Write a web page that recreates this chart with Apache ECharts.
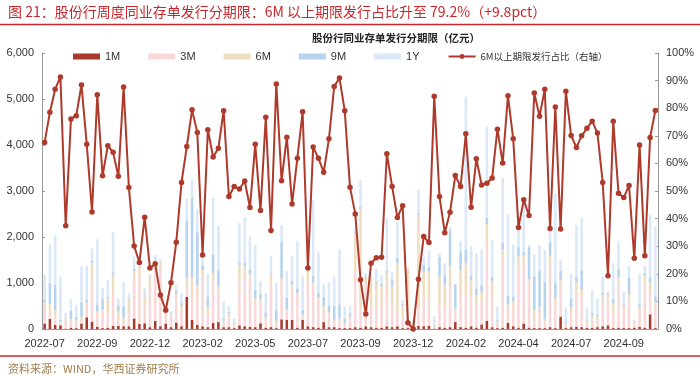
<!DOCTYPE html>
<html>
	<head>
		<meta charset="UTF-8">
		<title>股份行周度同业存单发行分期限</title>
		<style type="text/css">
			html, body { margin: 0; padding: 0; background: #fff; }
			#chartbox { width: 700px; height: 377px; }
		</style>
		<script src="https://cdn.jsdelivr.net/npm/echarts@6/dist/echarts.min.js"></script>
	</head>
	<body>
		<div id="chartbox"></div>
		<script>
			// 横轴每10周一个标签
			var tickLabels = ['2022-07', '2022-09', '2022-12', '2023-02', '2023-05', '2023-07',
				'2023-09', '2023-12', '2024-02', '2024-04', '2024-07', '2024-09'];

			// 各期限发行量（亿元），每周一个值，共117周
			var m1 = [120, 220, 90, 80, 10, 30, 20, 120, 255, 160,
				50, 20, 30, 65, 70, 60, 60, 230, 110, 125,
				40, 175, 60, 120, 40, 140, 60, 700, 200, 90,
				60, 40, 130, 150, 40, 40, 20, 80, 60, 50,
				40, 125, 30, 40, 20, 210, 200, 200, 30, 200,
				60, 40, 30, 150, 40, 40, 20, 20, 20, 40,
				30, 60, 40, 30, 30, 60, 40, 60, 20, 20,
				10, 70, 60, 70, 10, 40, 30, 40, 150, 40,
				30, 60, 30, 100, 180, 40, 20, 30, 130, 60,
				30, 120, 30, 20, 20, 20, 40, 20, 270, 20,
				40, 50, 40, 30, 30, 40, 60, 80, 20, 30,
				20, 20, 30, 50, 30, 320, 20];
			var m3 = [260, 175, 175, 20, 210, 125, 100, 35, 200, 850,
				245, 375, 330, 690, 230, 65, 315, 870, 1015, 400,
				885, 1055, 1270, 345, 275, 520, 305, 260, 470, 660,
				1075, 295, 940, 625, 85, 220, 90, 1055, 1065, 1075,
				565, 470, 150, 985, 90, 835, 185, 670, 695, 45,
				980, 915, 605, 270, 275, 100, 140, 80, 225, 1240,
				400, 900, 430, 450, 500, 700, 500, 315, 250, 500,
				150, 380, 580, 450, 30, 500, 420, 900, 250, 750,
				700, 600, 500, 500, 1650, 700, 100, 1500, 300, 450,
				1400, 1300, 1000, 150, 350, 150, 1350, 560, 700, 40,
				320, 720, 690, 90, 180, 150, 475, 585, 330, 940,
				400, 640, 115, 350, 980, 440, 440];
			var m6 = [200, 150, 140, 60, 30, 60, 80, 100, 120, 420,
				80, 40, 300, 420, 90, 120, 250, 150, 200, 210,
				200, 280, 150, 20, 20, 100, 140, 170, 440, 200,
				150, 150, 150, 150, 60, 80, 30, 250, 250, 60,
				60, 60, 80, 160, 50, 60, 50, 100, 60, 60,
				200, 60, 60, 80, 50, 60, 60, 30, 30, 780,
				2175, 150, 650, 500, 400, 450, 380, 1060, 250, 800,
				15, 2030, 600, 725, 30, 600, 500, 450, 50, 500,
				700, 400, 200, 200, 450, 300, 60, 200, 100, 100,
				150, 180, 50, 250, 100, 50, 200, 100, 100, 60,
				120, 250, 120, 40, 80, 80, 200, 100, 200, 150,
				100, 100, 20, 80, 150, 250, 150];
			var m9 = [60, 450, 560, 40, 20, 190, 60, 330, 60, 60,
				160, 220, 40, 60, 120, 250, 30, 60, 30, 20,
				20, 40, 10, 5, 30, 80, 60, 1230, 1740, 1150,
				100, 210, 400, 350, 40, 40, 20, 60, 60, 100,
				180, 100, 100, 40, 250, 790, 250, 80, 100, 110,
				30, 150, 100, 200, 150, 300, 300, 100, 60, 40,
				50, 20, 20, 40, 50, 60, 160, 110, 30, 0,
				0, 40, 150, 100, 20, 435, 220, 760, 520, 400,
				300, 100, 150, 150, 140, 100, 20, 150, 200, 100,
				200, 80, 700, 725, 800, 800, 300, 330, 200, 30,
				180, 120, 430, 30, 60, 40, 60, 20, 100, 180,
				40, 350, 10, 60, 60, 100, 100];
			var y1 = [535, 845, 1065, 940, 85, 240, 260, 770, 735, 260,
				1415, 235, 365, 865, 160, 520, 120, 265, 125, 125,
				45, 60, 25, 10, 15, 120, 210, 470, 400, 510,
				165, 505, 1225, 965, 375, 120, 70, 855, 985, 725,
				985, 290, 420, 370, 590, 365, 575, 545, 1015, 725,
				65, 1640, 870, 270, 500, 640, 1220, 255, 170, 100,
				580, 80, 35, 285, 195, 1150, 150, 790, 80, 15,
				0, 500, 170, 355, 180, 70, 260, 75, 0, 210,
				3320, 645, 765, 780, 1980, 795, 285, 1410, 1765, 1130,
				630, 1105, 45, 465, 555, 700, 300, 1940, 230, 300,
				550, 1120, 1140, 260, 500, 355, 345, 40, 780, 615,
				250, 260, 20, 650, 150, 1370, 1515];

			// 6M以上期限发行占比（%，右轴）
			var longShare = [67.6, 78.5, 86.9, 91.3, 37.4, 76.1, 77.3, 88.4, 66.9, 42.4,
				84.9, 55.5, 66.4, 64.0, 55.3, 87.7, 51.3, 30.1, 24.1, 40.5,
				22.1, 23.6, 12.3, 6.8, 16.8, 31.4, 53.1, 66.1, 79.4, 71.2,
				26.8, 72.2, 62.3, 65.5, 79.1, 48.0, 51.6, 50.7, 53.6, 44.0,
				66.9, 42.9, 76.7, 35.7, 88.8, 53.7, 69.5, 45.3, 61.9, 78.7,
				22.1, 65.9, 61.9, 56.8, 68.9, 87.9, 90.9, 79.1, 51.4, 41.7,
				17.8, 5.4, 23.8, 25.8, 26.0, 63.5, 51.6, 40.4, 44.7, 2.3,
				0.0, 18.0, 33.5, 31.3, 84.3, 48.0, 34.9, 42.3, 55.6, 51.6,
				70.7, 44.1, 61.7, 52.2, 52.8, 54.7, 72.4, 60.1, 84.5, 68.9,
				36.8, 46.8, 41.1, 85.5, 77.1, 86.9, 36.4, 80.4, 36.2, 86.1,
				70.1, 65.8, 70.0, 72.7, 75.3, 71.0, 53.1, 19.3, 75.3, 49.2,
				47.6, 52.0, 25.6, 66.7, 26.5, 69.4, 79.2];

			var weeks = longShare.map(function (v, i) { return 'W' + (i + 1); });

			var chart = echarts.init(document.getElementById('chartbox'));

			var labelFont = 'Liberation Sans, Arial, sans-serif';
			var cjkFont = '"Noto Sans CJK SC", sans-serif';

			function barSeries(name, data, color) {
				return {
					name: name,
					type: 'bar',
					stack: 'amount',
					barWidth: '48%',
					data: data,
					itemStyle: { color: color }
				};
			}

			var option = {
				animation: false,
				backgroundColor: '#fff',
				title: [{
					text: '图 21：股份行周度同业存单发行分期限：6M 以上期限发行占比升至 79.2%（+9.8pct）',
					left: 3, top: 0,
					textStyle: { color: '#C8282D', fontSize: 14, fontWeight: 'normal', fontFamily: cjkFont }
				}, {
					text: '股份行同业存单发行分期限（亿元）',
					left: 391, top: 28, textAlign: 'center',
					textStyle: { color: '#222', fontSize: 10.5, fontWeight: 'bold', fontFamily: cjkFont }
				}, {
					text: '资料来源：WIND，华西证券研究所',
					left: 3, top: 358,
					textStyle: { color: '#A27C4C', fontSize: 11, fontWeight: 'normal', fontFamily: cjkFont }
				}],
				graphic: [
					{ type: 'line', shape: { x1: 0, y1: 24.5, x2: 700, y2: 24.5 }, style: { stroke: '#C8282D', lineWidth: 1.5 } },
					{ type: 'line', shape: { x1: 0, y1: 356, x2: 700, y2: 356 }, style: { stroke: '#C8282D', lineWidth: 1.5 } }
				],
				legend: {
					left: 73, top: 51, padding: 0,
					itemWidth: 27, itemHeight: 6, itemGap: 28,
					textStyle: { color: '#333', fontSize: 11, fontFamily: labelFont },
					data: [
						{ name: '1M', icon: 'rect' },
						{ name: '3M', icon: 'rect' },
						{ name: '6M', icon: 'rect' },
						{ name: '9M', icon: 'rect' },
						{ name: '1Y', icon: 'rect' },
						{ name: '6M以上期限发行占比（右轴）', textStyle: { fontFamily: cjkFont, fontSize: 9.5 } }
					]
				},
				grid: { left: 42, right: 42, top: 53, bottom: 48 },
				xAxis: {
					type: 'category',
					data: weeks,
					boundaryGap: true,
					axisLine: { lineStyle: { color: '#999' } },
					axisTick: { show: false },
					axisLabel: {
						interval: 9,
						margin: 9,
						color: '#333', fontSize: 11, fontFamily: labelFont,
						formatter: function (v, i) { return tickLabels[i / 10] || ''; }
					}
				},
				yAxis: [{
					type: 'value', min: 0, max: 6000, interval: 1000,
					splitLine: { show: false },
					axisLine: { show: true, lineStyle: { color: '#999' } },
					axisTick: { show: true, inside: true, length: 3, lineStyle: { color: '#999' } },
					axisLabel: {
						color: '#333', fontSize: 11, fontFamily: labelFont, margin: 8,
						formatter: function (v) { return v.toLocaleString('en-US'); }
					}
				}, {
					type: 'value', min: 0, max: 100, interval: 10,
					splitLine: { show: false },
					axisLine: { show: true, lineStyle: { color: '#999' } },
					axisTick: { show: true, inside: true, length: 3, lineStyle: { color: '#999' } },
					axisLabel: {
						color: '#333', fontSize: 11, fontFamily: labelFont, margin: 8,
						formatter: '{value}%'
					}
				}],
				series: [
					barSeries('1M', m1, '#A8392B'),
					barSeries('3M', m3, '#F8D8D8'),
					barSeries('6M', m6, '#EEDDC1'),
					barSeries('9M', m9, '#B5D2EE'),
					barSeries('1Y', y1, '#DAE8F7'),
					{
						name: '6M以上期限发行占比（右轴）',
						type: 'line',
						yAxisIndex: 1,
						data: longShare,
						symbol: 'circle',
						symbolSize: 5.5,
						showAllSymbol: true,
						lineStyle: { color: '#AE3A2C', width: 2 },
						itemStyle: { color: '#AE3A2C' },
						z: 5
					}
				]
			};

			chart.setOption(option);
		</script>
	</body>
</html>
